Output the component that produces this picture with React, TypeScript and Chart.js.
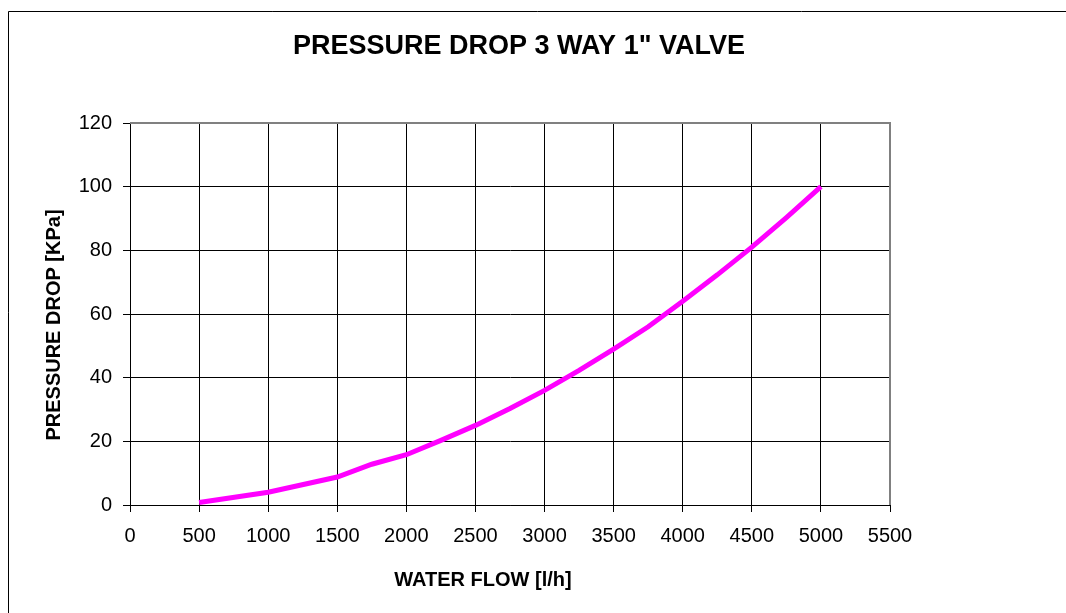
import React, { useEffect, useRef } from "react";
import { Chart, registerables } from "chart.js";

Chart.register(...registerables);

const flowValues = [500, 1000, 1500, 1750, 2000, 2250, 2500, 2750, 3000, 3250, 3500, 3750, 4000, 4250, 4500, 4750, 5000];
const pressureDrop = [0.8, 4, 8.8, 12.8, 15.8, 20.3, 25, 30.3, 36, 42.3, 49, 56, 64, 72.3, 81, 90.3, 100];

const chartTitle = 'PRESSURE DROP 3 WAY 1" VALVE';
const xAxisTitle = "WATER FLOW [l/h]";
const yAxisTitle = "PRESSURE DROP [KPa]";
const xMin = 0, xMax = 5500, xStep = 500;
const yMin = 0, yMax = 120, yStep = 20;

const FONT = "'Liberation Sans', Arial, sans-serif";

const decorPlugin = {
  id: "decor",
  beforeDraw(chart: any) {
    const ctx = chart.ctx;
    ctx.save();
    ctx.fillStyle = "#ffffff";
    ctx.fillRect(0, 0, chart.width, chart.height);
    ctx.strokeStyle = "#000000";
    ctx.lineWidth = 1;
    ctx.beginPath();
    ctx.moveTo(8.5, chart.height);
    ctx.lineTo(8.5, 11.5);
    ctx.lineTo(chart.width, 11.5);
    ctx.stroke();
    ctx.restore();
  },
  afterDatasetsDraw(chart: any) {
    const { ctx, chartArea } = chart;
    const { left, right, top, bottom } = chartArea;
    ctx.save();
    // gray top/right frame
    ctx.strokeStyle = "#808080";
    ctx.lineWidth = 2;
    ctx.beginPath();
    ctx.moveTo(left, top);
    ctx.lineTo(right, top);
    ctx.lineTo(right, bottom);
    ctx.stroke();
    ctx.fillStyle = "#000000";
    // title
    ctx.font = `bold 27px ${FONT}`;
    ctx.textAlign = "center";
    ctx.textBaseline = "middle";
    ctx.fillText(chartTitle, (left + right) / 2 + 9, top - 76);
    // x axis title
    ctx.font = `bold 20px ${FONT}`;
    ctx.fillText(xAxisTitle, (left + right) / 2 - 27, bottom + 75);
    // y axis title
    ctx.translate(left - 76, (top + bottom) / 2 + 11);
    ctx.rotate(-Math.PI / 2);
    ctx.fillText(yAxisTitle, 0, 0);
    ctx.restore();
  },
};

export default function App() {
  const ref = useRef<HTMLCanvasElement>(null);
  useEffect(() => {
    if (!ref.current) return;
    const chart = new Chart(ref.current, {
      type: "line",
      data: {
        datasets: [
          {
            data: flowValues.map((x, i) => ({ x, y: pressureDrop[i] })),
            borderColor: "#ff00ff",
            backgroundColor: "#ff00ff",
            borderWidth: 5,
            pointRadius: 0,
            tension: 0,
            fill: false,
          },
        ],
      },
      options: {
        animation: false,
        responsive: false,
        maintainAspectRatio: false,
        layout: { padding: { left: 0, top: 123, right: 176, bottom: 0 } },
        plugins: { legend: { display: false }, title: { display: false }, tooltip: { enabled: false } },
        scales: {
          x: {
            type: "linear",
            min: xMin,
            max: xMax,
            afterFit: (s: any) => { s.height = 108; },
            ticks: {
              stepSize: xStep,
              color: "#000",
              font: { family: FONT, size: 20 },
              padding: 12,
              maxRotation: 0,
              autoSkip: false,
              callback: (v: any) => String(v),
            },
            grid: { color: "#000", lineWidth: 1, tickLength: 7, tickColor: "#000" },
            border: { color: "#000", width: 1 },
          },
          y: {
            type: "linear",
            min: yMin,
            max: yMax,
            afterFit: (s: any) => { s.width = 130; },
            ticks: {
              stepSize: yStep,
              color: "#000",
              font: { family: FONT, size: 20 },
              padding: 11,
              callback: (v: any) => String(v),
            },
            grid: { color: "#000", lineWidth: 1, tickLength: 7, tickColor: "#000" },
            border: { color: "#000", width: 1 },
          },
        },
      },
      plugins: [decorPlugin],
    } as any);
    return () => chart.destroy();
  }, []);
  return (
    <div style={{ position: "fixed", left: 0, top: 0, width: 1066, height: 613 }}>
      <canvas ref={ref} width={1066} height={613} style={{ display: "block" }} />
    </div>
  );
}
